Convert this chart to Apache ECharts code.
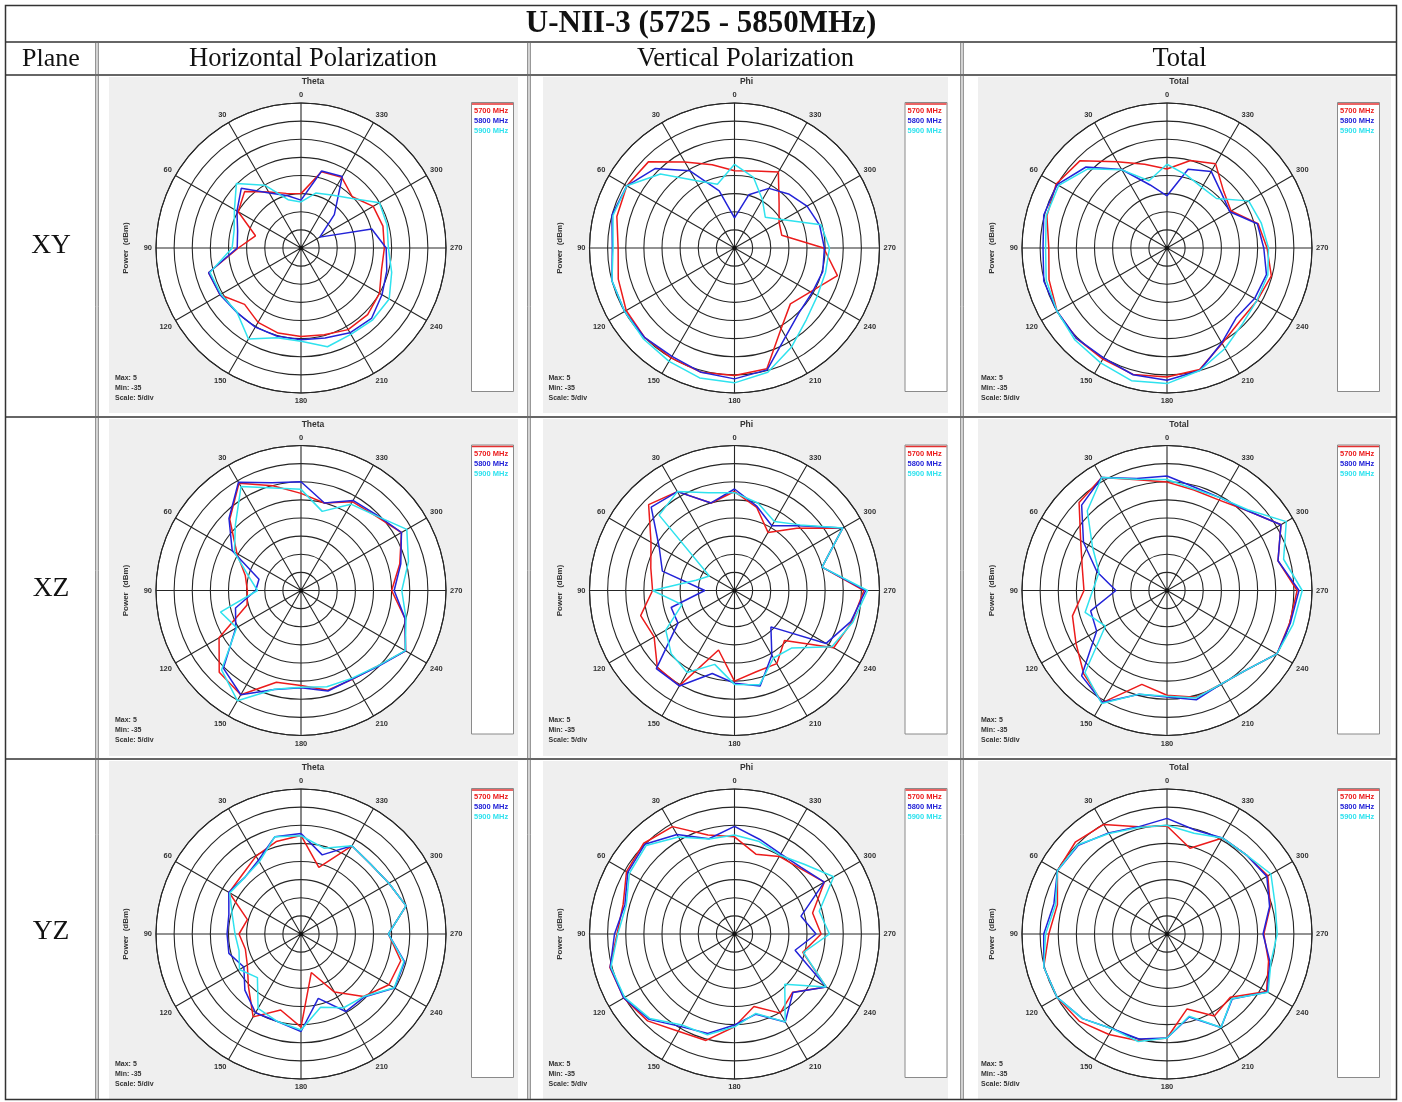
<!DOCTYPE html>
<html>
<head>
<meta charset="utf-8">
<script src="https://cdn.jsdelivr.net/npm/echarts@6/dist/echarts.min.js"></script>
<style>
  html, body { margin: 0; padding: 0; background: #ffffff; }
  #chart { width: 1402px; height: 1102px; }
</style>
</head>
<body>
<div id="chart"></div>
<script>
// ---- measurement angles (deg) and labels ----
const angles = [0, 15, 30, 45, 60, 75, 90, 105, 120, 135, 150, 165, 180, 195, 210, 225, 240, 255, 270, 285, 300, 315, 330, 345];
const angleLabels = ['0', '30', '60', '90', '120', '150', '180', '210', '240', '270', '300', '330'];
const freqNames = ['5700 MHz', '5800 MHz', '5900 MHz'];
const planeNames = ['XY', 'XZ', 'YZ'];
const columnHeads = ['Horizontal Polarization', 'Vertical Polarization', 'Total'];
const plotTitles = ['Theta', 'Phi', 'Total'];
const tableTitle = 'U-NII-3 (5725 - 5850MHz)';
const scaleNotes = ['Max: 5', 'Min: -35', 'Scale: 5/div'];

// ---- XY plane (dBm) ----
const xyH5700 = [-20, -19.4, -17.2, -13, -15, -22, -17.7, -8.6, -9.2, -13, -11.3, -10.7, -10.6, -10.2, -9, -9, -10, -12, -12, -11.6, -12, -15, -12.5, -13.2];
const xyH5800 = [-21.8, -20, -17.5, -11.7, -14.6, -16.9, -17.4, -8.6, -9.2, -9.9, -9.8, -9.8, -9.7, -9.3, -8, -7.5, -9.2, -10.5, -11.5, -14.8, -29, -22, -12.2, -13];
const xyH5900 = [-22.3, -21.2, -15, -9.8, -13.8, -15.9, -16, -9, -9.5, -10, -6, -9.4, -9.3, -6.8, -7.5, -7, -6.9, -9.1, -10.9, -10.4, -10, -15.6, -18.1, -19.3];

const xyV5700 = [-13.7, -11.2, -7.6, -1.4, -0.7, -1.4, -2.9, -1.8, -0.5, 0, 0, 0.5, 0.2, -0.5, -9.3, -13.2, -10.8, -5.6, -10.4, -21.5, -20.8, -17.6, -10.8, -13];
const xyV5800 = [-26.7, -18.7, -10.4, -4, -0.7, 0, -1.3, 0, 0, 0, -0.5, 0.5, 1.1, -0.2, -6.8, -9.8, -10.3, -9.8, -10.2, -10.7, -11.9, -13.9, -16, -19.8];
const xyV5900 = [-11.9, -16.8, -13.5, -6.1, -0.7, -0.3, -1.5, 0, 0, 0.5, 1.1, 2.1, 2.2, 0.5, -3.5, -7, -8.6, -9, -8.8, -10.3, -19.4, -23, -19.6, -14.8];

const xyT5700 = [-13.2, -11.1, -7.5, -1, 0.3, -0.7, -2.4, -1.3, 0, 0.3, 0.4, 1.1, 0.6, -0.3, -4.6, -6.5, -6.2, -5.2, -7.4, -9, -14.6, -12.9, -8.2, -10];
const xyT5800 = [-20.6, -17, -10, -3.4, 0, 0.2, -0.8, 0.2, 0, 0.3, 0, 1.2, 1.5, 0, -4.8, -7.9, -7.1, -6.6, -8.3, -9.2, -15, -13.7, -10.6, -12.5];
const xyT5900 = [-11.9, -15.8, -10.1, -4.1, -0.5, -0.5, -1.5, -0.5, 0, 0.9, 1.6, 2.9, 2.4, 0, -3, -5.5, -6.3, -6.2, -7, -8.1, -9, -15.7, -15.7, -14.2];

// ---- XZ plane (dBm) ----
const xzH5700 = [-8.2, -5.1, -0.8, -7.2, -14.6, -19.1, -20.2, -19.6, -8.9, -3.1, -1.8, -8.8, -8.8, -6.5, -6.7, -5.4, -1.7, -5.3, -10, -6.8, -3, -5.9, -6.7, -10];
const xzH5800 = [-5, -4.2, -0.5, -6.9, -13.1, -23, -22.5, -16.3, -14.2, -4.7, -1.8, -6.7, -8.2, -6.3, -6.8, -5.2, -1.7, -5.3, -9.3, -6.5, -3, -5.5, -6.3, -10];
const xzH5900 = [-7.1, -5.7, -1.9, -9.4, -13.8, -20.1, -23, -12, -14.5, -4, 0.1, -6.8, -8.3, -7.5, -7, -5.4, -1.8, -5, -7.2, -4.3, -1.3, -5.8, -7.5, -12.4];

const xzV5700 = [-7.7, -10, -3.5, -1.5, -8.4, -11.1, -12.4, -8.2, -9.4, -4.9, -4.7, -18, -10, -11.8, -11.7, -15.5, -3.4, -1.5, 0.7, -10, -0.5, -10.7, -16.5, -11.3];
const xzV5800 = [-7, -10, -3.5, -2.5, -11, -14.4, -26.8, -16.9, -17, -4.5, -4.6, -11.3, -9.4, -7.7, -14.4, -20.8, -5.8, -1.8, 1.2, -10, -0.5, -9.7, -14.4, -11];
const xzV5900 = [-8, -7.1, -3.5, -5.6, -27, -24, -12.4, -20, -13.1, -10.3, -8.9, -13.9, -9.1, -8.1, -13.5, -12.6, -4, -1.2, 1.7, -10, -0.5, -9.4, -13, -10];

const xzT5700 = [-5.1, -3.4, 1, -0.7, -7.5, -10.8, -12.1, -8, -6, -2.5, 0.7, -8.2, -6.1, -4.5, -5.2, -4, 0, 0, 0.9, -3.3, 1.3, -3.8, -6.2, -6.3];
const xzT5800 = [-3.4, -3, 1, -1.7, -8.4, -15, -20.9, -13.2, -12.6, -1.7, 0.7, -5.4, -5.6, -3.8, -5.2, -4, 0, 0.2, 1.4, -3.3, 1.3, -3.8, -5.5, -5.5];
const xzT5900 = [-4.4, -3.2, 1, -3.9, -11.3, -15.6, -14.5, -11.6, -15.4, -3, 1, -5.4, -5.8, -4.3, -5.2, -4, 0, 1, 2.3, -1.7, 3, -3.5, -5.5, -6];

// ---- YZ plane (dBm) ----
const yzH5700 = [-7.8, -8.6, -10.2, -12, -12.1, -19.7, -17.9, -19.1, -17.9, -14.5, -8.6, -13.3, -9.3, -24, -16.5, -10.6, -7, -6.5, -10.9, -5, -7, -7.8, -6.9, -16];
const yzH5800 = [-7.3, -7.2, -11.5, -13, -12, -14.4, -14.6, -14.4, -16.8, -13.1, -9.9, -10, -8.1, -16.6, -10.3, -10.4, -5.2, -5.4, -10.9, -5, -7, -7.8, -6.9, -12.4];
const yzH5900 = [-7.9, -7.2, -12, -13, -12.3, -15.4, -16.8, -17.3, -15.4, -18, -11.3, -10, -8.5, -14.1, -11.5, -10.6, -5.3, -5.6, -10.9, -5, -7, -7.8, -6.9, -10.5];

const yzV5700 = [-8.2, -6.7, -0.8, 0.4, -0.6, -3.2, -2.6, 0.6, 0.3, -1.1, -4, -4.6, -9.4, -14.3, -9.8, -12.3, -5.8, -15.5, -11.1, -12.7, -6.4, -9.4, -10.3, -12.2];
const yzV5800 = [-5.3, -7.8, -3.3, 0, -1, -3.7, -1.9, 0.5, 0.3, -1.7, -5.5, -6.6, -9.9, -12.1, -7, -12.2, -5.8, -17.7, -12.5, -16, -6.4, -9, -9.5, -8];
const yzV5900 = [-7.7, -7.9, -4.1, -0.5, -1.5, -4.1, -2.8, 0.3, 0, -2, -6, -6.2, -9.4, -12.3, -7, -15.4, -5.8, -15.3, -8.8, -10.8, -3.4, -7.8, -9.9, -8.6];

const yzT5700 = [-5.2, -4.4, -0.1, 0.8, -0.1, -3.7, -2.4, 0.2, 0, -0.9, -3, -4.5, -6.3, -13.6, -8.9, -10.3, -3.3, -6, -8.3, -5.5, -2.9, -4.1, -4.4, -10.5];
const yzT5800 = [-3.1, -4.4, -2.8, -0.4, -0.1, -2.7, -1, 0.2, 0, -2, -4.8, -5, -6.3, -11.3, -5.2, -9.6, -3, -5.6, -8.5, -5.7, -3.2, -4.1, -4.4, -5.3];
const yzT5900 = [-5, -4.6, -3, -0.2, -0.1, -3.2, -1.5, 0.2, 0, -2, -4.8, -4.3, -6.3, -11.5, -5.2, -9.7, -2.8, -5.3, -4.6, -4.1, -1.9, -4.1, -4.4, -6.2];

// grid of plots: rows = planes, columns = polarisations
const plotData = [
  [[xyH5700, xyH5800, xyH5900], [xyV5700, xyV5800, xyV5900], [xyT5700, xyT5800, xyT5900]],
  [[xzH5700, xzH5800, xzH5900], [xzV5700, xzV5800, xzV5900], [xzT5700, xzT5800, xzT5900]],
  [[yzH5700, yzH5800, yzH5900], [yzV5700, yzV5800, yzV5900], [yzT5700, yzT5800, yzT5900]]
];

// ---- layout ----
const freqColors = ['#ec1b1b', '#2323d8', '#2fe2ee'];
const colCenters = [301, 734.5, 1167];
const rowCenters = [248, 590.5, 934];
const panelSpans = [[109, 518], [543, 948], [978, 1391]];
const rowSpans = [[77, 413], [419, 756], [761, 1099]];
const colLines = [97, 529, 962];
const rowLines = [417, 759];
const R = 145;

const gridColor = '#262626';
const panelFont = '"Liberation Sans", Arial, sans-serif';
const serifFont = '"Liberation Serif", "Times New Roman", serif';

const polar = [], angleAxis = [], radiusAxis = [], series = [], legend = [];
const graphic = [];

// table background panels first
for (let r = 0; r < 3; r++) {
  for (let c = 0; c < 3; c++) {
    graphic.push({
      type: 'rect', z: -10, silent: true,
      shape: { x: panelSpans[c][0], y: rowSpans[r][0], width: panelSpans[c][1] - panelSpans[c][0], height: rowSpans[r][1] - rowSpans[r][0] },
      style: { fill: '#efefef' }
    });
  }
}

let idx = 0;
for (let r = 0; r < 3; r++) {
  for (let c = 0; c < 3; c++) {
    const cx = colCenters[c], cy = rowCenters[r];
    polar.push({ center: [cx, cy], radius: R });
    angleAxis.push({
      polarIndex: idx, type: 'value', min: 0, max: 360, interval: 30,
      startAngle: 90, clockwise: false,
      axisLine: { show: true, lineStyle: { color: gridColor, width: 1.1 } },
      axisTick: { show: false },
      axisLabel: {
        show: true, margin: 4, color: '#333', fontSize: 7.5, fontWeight: 'bold', fontFamily: panelFont,
        formatter: v => (angleLabels[Math.round(v / 30)] !== undefined && v < 360) ? angleLabels[Math.round(v / 30)] : ''
      },
      splitLine: { show: true, lineStyle: { color: gridColor, width: 1.1, type: 'solid' } }
    });
    radiusAxis.push({
      polarIndex: idx, type: 'value', min: -35, max: 5, interval: 5,
      axisLine: { show: false }, axisTick: { show: false }, axisLabel: { show: false },
      splitLine: { show: true, lineStyle: { color: gridColor, width: 1.1, type: 'solid', opacity: 1 } },
      splitArea: { show: false }
    });
    // white plotting disc
    graphic.push({ type: 'circle', z: -6, silent: true, shape: { cx: cx, cy: cy, r: R }, style: { fill: '#ffffff' } });
    plotData[r][c].forEach((vals, k) => {
      const pts = angles.map((a, j) => [vals[j], a]);
      pts.push([vals[0], 360]);
      series.push({
        name: freqNames[k], type: 'line', coordinateSystem: 'polar', polarIndex: idx,
        data: pts, symbol: 'none', smooth: false, animation: false,
        lineStyle: { color: freqColors[k], width: 1.5 },
        itemStyle: { color: freqColors[k] }, z: 3 + k
      });
    });
    legend.push({
      left: cx + 168, top: cy - 141, orient: 'vertical', padding: 0, itemGap: 2,
      itemWidth: 0, itemHeight: 0, icon: 'rect', selectedMode: false,
      textStyle: { fontSize: 7.5, fontWeight: 'bold', fontFamily: panelFont },
      data: freqNames.map((n, k) => ({ name: n, textStyle: { color: freqColors[k] } }))
    });
    // legend frame
    graphic.push({
      type: 'rect', z: -5, silent: true,
      shape: { x: cx + 170.5, y: cy - 145.5, width: 42, height: 289 },
      style: { fill: '#ffffff', stroke: '#8a8a8a', lineWidth: 1 }
    });
    graphic.push({
      type: 'line', z: -4, silent: true,
      shape: { x1: cx + 171, y1: cy - 144, x2: cx + 212, y2: cy - 144 },
      style: { stroke: '#e53030', lineWidth: 1.5 }
    });
    // centre dot
    graphic.push({ type: 'circle', z: 20, silent: true, shape: { cx: cx, cy: cy, r: 2 }, style: { fill: '#111' } });
    // panel texts
    graphic.push({
      type: 'text', z: 20, silent: true, x: cx + 12, y: cy - 166,
      style: { text: plotTitles[c], fill: '#333', font: 'bold 8.5px ' + panelFont, textAlign: 'center', textVerticalAlign: 'middle', align: 'center', verticalAlign: 'middle' }
    });
    graphic.push({
      type: 'text', z: 20, silent: true, x: cx - 175, y: cy, rotation: Math.PI / 2,
      style: { text: 'Power  (dBm)', fill: '#333', font: 'bold 8px ' + panelFont, textAlign: 'center', textVerticalAlign: 'middle', align: 'center', verticalAlign: 'middle' }
    });
    scaleNotes.forEach((t, k) => {
      graphic.push({
        type: 'text', z: 20, silent: true, x: cx - 186, y: cy + 130 + k * 10,
        style: { text: t, fill: '#333', font: 'bold 7px ' + panelFont, textAlign: 'left', textVerticalAlign: 'middle', align: 'left', verticalAlign: 'middle' }
      });
    });
    idx++;
  }
}

// ---- table frame ----
const lineStyle = { stroke: '#333', lineWidth: 1.5 };
graphic.push({ type: 'rect', z: 30, silent: true, shape: { x: 5.5, y: 5.5, width: 1391, height: 1094 }, style: { fill: 'none', stroke: '#333', lineWidth: 1.5 } });
[42, 75].concat(rowLines).forEach(y => {
  graphic.push({ type: 'line', z: 30, silent: true, shape: { x1: 6, y1: y, x2: 1396, y2: y }, style: lineStyle });
});
colLines.forEach(x => {
  [-1.2, 1.2].forEach(d => {
    graphic.push({ type: 'line', z: 30, silent: true, shape: { x1: x + d, y1: 42, x2: x + d, y2: 1099 }, style: { stroke: '#6a6a6a', lineWidth: 1 } });
  });
});

// ---- table texts ----
graphic.push({
  type: 'text', z: 30, silent: true, x: 701, y: 24,
  style: { text: tableTitle, fill: '#111', font: 'bold 31px ' + serifFont, textAlign: 'center', textVerticalAlign: 'middle', align: 'center', verticalAlign: 'middle' }
});
graphic.push({
  type: 'text', z: 30, silent: true, x: 51, y: 59,
  style: { text: 'Plane', fill: '#111', font: '26px ' + serifFont, textAlign: 'center', textVerticalAlign: 'middle', align: 'center', verticalAlign: 'middle' }
});
columnHeads.forEach((t, c) => {
  const x = (colLines[c] + (c < 2 ? colLines[c + 1] : 1397)) / 2;
  graphic.push({
    type: 'text', z: 30, silent: true, x: x, y: 59,
    style: { text: t, fill: '#111', font: '26.5px ' + serifFont, textAlign: 'center', textVerticalAlign: 'middle', align: 'center', verticalAlign: 'middle' }
  });
});
planeNames.forEach((t, r) => {
  graphic.push({
    type: 'text', z: 30, silent: true, x: 51, y: rowCenters[r] - 2,
    style: { text: t, fill: '#111', font: '27.5px ' + serifFont, textAlign: 'center', textVerticalAlign: 'middle', align: 'center', verticalAlign: 'middle' }
  });
});

const chart = echarts.init(document.getElementById('chart'), null, { renderer: 'canvas', width: 1402, height: 1102 });
chart.setOption({
  backgroundColor: '#ffffff',
  animation: false,
  polar: polar,
  angleAxis: angleAxis,
  radiusAxis: radiusAxis,
  legend: legend,
  series: series,
  graphic: graphic
});
</script>
</body>
</html>
